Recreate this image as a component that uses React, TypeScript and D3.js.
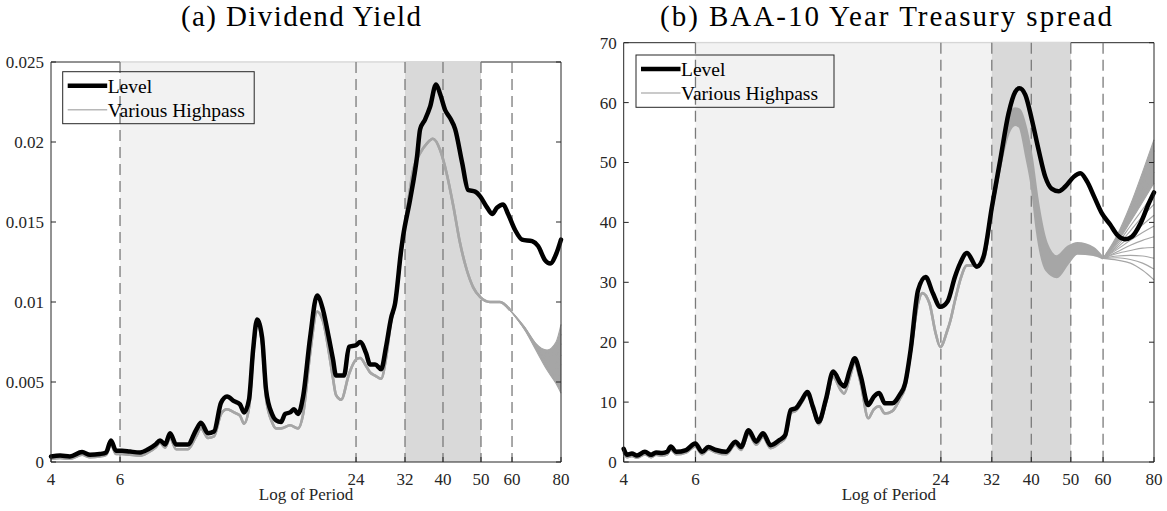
import React from 'react';
import * as d3 from 'd3';

type Pt = number[];

// ---------- shared axis data ----------
const periodTicks = [4, 6, 24, 32, 40, 50, 60, 80];
const periodTickLabels = ['4', '6', '24', '32', '40', '50', '60', '80'];
const markerPeriods = [6, 24, 32, 40, 50, 60];
const lightBand = [6, 32];
const darkBand = [32, 50];
const legendLabels = ['Level', 'Various Highpass'];
const xLabel = 'Log of Period';

// ---------- panel (a) Dividend Yield ----------
const titleA = '(a) Dividend Yield';
const yTicksA = [0, 0.005, 0.01, 0.015, 0.02, 0.025];
const yTickLabelsA = ['0', '0.005', '0.01', '0.015', '0.02', '0.025'];
const levelA: Pt[] = [
  [4.0, 0.00035], [4.22, 0.0004], [4.47, 0.00035], [4.8, 0.00062], [5.03, 0.00045], [5.33, 0.0005],
  [5.53, 0.0006], [5.69, 0.00135], [5.86, 0.0007], [6.07, 0.0007], [6.36, 0.00065], [6.75, 0.0006],
  [7.08, 0.0008], [7.39, 0.0011], [7.59, 0.00135], [7.82, 0.0011], [8.05, 0.0018], [8.34, 0.0011],
  [8.94, 0.0011], [9.38, 0.002], [9.65, 0.00245], [10.06, 0.0018], [10.42, 0.0019], [10.86, 0.0037],
  [11.25, 0.0041], [11.72, 0.0038], [12.14, 0.0036], [12.43, 0.0031], [12.8, 0.0039], [13.11, 0.007],
  [13.42, 0.0089], [13.82, 0.0078], [14.15, 0.0045], [14.65, 0.003], [15.01, 0.0026], [15.45, 0.0025],
  [15.82, 0.003], [16.29, 0.0031], [16.68, 0.0033], [17.07, 0.003], [17.59, 0.0041], [18.33, 0.0078],
  [19.09, 0.0104], [19.77, 0.0095], [20.48, 0.0077], [20.97, 0.0064], [21.33, 0.0054], [22.36, 0.0054],
  [23.03, 0.0072], [24.0, 0.0073], [24.58, 0.0075], [25.46, 0.0068], [26.06, 0.0061], [26.85, 0.0061],
  [27.81, 0.0058], [28.63, 0.0072], [29.49, 0.009], [30.18, 0.0099], [31.27, 0.0132], [31.64, 0.0141],
  [32.97, 0.0164], [34.35, 0.0191], [34.97, 0.0208], [35.99, 0.0214], [37.08, 0.0222], [38.4, 0.0236],
  [39.33, 0.023], [40.5, 0.022], [41.7, 0.0215], [42.96, 0.0208], [44.76, 0.0187], [46.36, 0.017],
  [48.31, 0.0169], [49.76, 0.0166], [51.84, 0.0159], [53.37, 0.0155], [54.95, 0.0159], [56.95, 0.0161],
  [58.63, 0.0155], [61.09, 0.0145], [63.65, 0.0139], [67.52, 0.0138], [69.93, 0.0135], [72.89, 0.0126],
  [75.06, 0.0124], [77.76, 0.013], [80, 0.0139],
];
const highpassA: Pt[] = [
  [4.0, 0.0002], [4.22, 0.00025], [4.47, 0.0002], [4.8, 0.00045], [5.03, 0.0003], [5.33, 0.00035],
  [5.53, 0.00045], [5.69, 0.0011], [5.86, 0.0005], [6.07, 0.0005], [6.36, 0.00045], [6.75, 0.0004],
  [7.08, 0.0006], [7.39, 0.0009], [7.59, 0.0012], [7.82, 0.0009], [8.05, 0.0015], [8.34, 0.0008],
  [8.94, 0.0008], [9.38, 0.0016], [9.65, 0.0021], [10.06, 0.0015], [10.42, 0.0016], [10.86, 0.003],
  [11.25, 0.0033], [11.72, 0.0031], [12.14, 0.0029], [12.43, 0.0024], [12.8, 0.0034], [13.11, 0.0066],
  [13.42, 0.0086], [13.82, 0.0074], [14.15, 0.004], [14.65, 0.0025], [15.01, 0.0021], [15.45, 0.0021],
  [16.29, 0.0023], [17.07, 0.0021], [17.59, 0.003], [18.33, 0.0068], [19.09, 0.0094], [19.77, 0.0088],
  [20.48, 0.0068], [20.97, 0.0052], [21.33, 0.0042], [22.0, 0.0039], [23.03, 0.0055], [24.0, 0.0064],
  [24.58, 0.0065], [25.46, 0.006], [26.06, 0.0056], [26.85, 0.0054], [27.81, 0.0052], [28.63, 0.0065],
  [29.49, 0.0088], [30.18, 0.0098], [31.27, 0.013], [32.3, 0.0155], [33.6, 0.0183], [34.97, 0.0193],
  [36.36, 0.0199], [37.69, 0.0202], [39.33, 0.0195], [40.9, 0.018], [42.5, 0.016], [44.2, 0.0137],
  [46.0, 0.012], [47.8, 0.0109], [49.8, 0.0103], [52.7, 0.01], [55.9, 0.01], [59.3, 0.0095],
];
const fanPeriodsA = [59.3, 64.7, 69.0, 73.7, 77.7, 80];
const fanA: number[][] = [
  [0.0095, 0.0084, 0.0074, 0.007, 0.0075, 0.0086],
  [0.0095, 0.0084, 0.0074, 0.0068, 0.0071, 0.008],
  [0.0095, 0.0084, 0.0073, 0.0066, 0.0067, 0.0074],
  [0.0095, 0.0083, 0.0073, 0.0064, 0.0062, 0.0067],
  [0.0095, 0.0083, 0.0072, 0.0062, 0.0058, 0.0061],
  [0.0095, 0.0083, 0.0072, 0.006, 0.0054, 0.0055],
  [0.0095, 0.00825, 0.0071, 0.0059, 0.0051, 0.0049],
  [0.0095, 0.00825, 0.007, 0.00575, 0.0049, 0.0043],
];

// ---------- panel (b) BAA-10 Year Treasury spread ----------
const titleB = '(b) BAA-10 Year Treasury spread';
const yTicksB = [0, 10, 20, 30, 40, 50, 60, 70];
const yTickLabelsB = ['0', '10', '20', '30', '40', '50', '60', '70'];
const levelB: Pt[] = [
  [4.0, 2.2], [4.08, 1.2], [4.19, 1.4], [4.31, 1.1], [4.51, 1.7], [4.67, 1.2], [4.8, 1.6], [4.97, 1.5],
  [5.11, 1.7], [5.22, 2.6], [5.38, 1.7], [5.69, 2.0], [5.99, 3.1], [6.23, 1.7], [6.45, 2.5], [6.74, 2.0],
  [7.13, 1.7], [7.52, 3.4], [7.76, 2.5], [8.1, 5.3], [8.45, 3.4], [8.79, 4.8], [9.17, 2.8], [9.66, 3.7],
  [9.96, 4.5], [10.28, 8.7], [10.59, 9.0], [10.95, 10.4], [11.29, 11.7], [11.65, 9.2], [12.03, 6.7],
  [12.53, 10.4], [13.06, 15.1], [13.63, 13.1], [13.89, 12.6], [14.36, 15.4], [14.75, 17.3], [15.28, 14.2],
  [15.92, 9.5], [16.43, 10.9], [16.94, 11.5], [17.49, 9.8], [18.24, 9.8], [19.02, 11.2], [19.61, 13.1],
  [20.23, 18.7], [21.1, 28.7], [22.02, 30.9], [22.93, 28.2], [23.92, 25.9], [24.92, 26.8], [25.98, 30.9],
  [26.77, 33.2], [27.8, 34.9], [29.41, 32.6], [30.54, 34.3], [32.02, 42.6], [33.56, 50.4], [35.18, 58.2],
  [36.53, 61.8], [37.42, 62.4], [38.67, 61.3], [40.14, 57.1], [41.69, 52.1], [43.29, 47.6], [44.93, 45.6],
  [46.68, 45.2], [48.48, 46.0], [50.82, 47.6], [52.77, 48.2], [54.85, 46.8], [57.04, 44.3], [59.61, 41.5],
  [62.5, 39.6], [65.0, 37.9], [68.0, 37.2], [70.6, 37.6], [74.1, 39.8], [77.7, 43.2], [80, 45.0],
];
// [period, lower, upper]; upper omitted where the bundle is a single line
const highpassB: Pt[] = [
  [4.0, 1.6], [4.08, 0.8], [4.19, 1.0], [4.31, 0.7], [4.51, 1.3], [4.67, 0.8], [4.8, 1.2], [4.97, 1.1],
  [5.11, 1.3], [5.22, 2.1], [5.38, 1.3], [5.69, 1.6], [5.99, 2.6], [6.23, 1.3], [6.45, 2.1], [6.74, 1.6],
  [7.13, 1.3], [7.52, 2.9], [7.76, 2.0], [8.1, 4.7], [8.45, 2.9], [8.79, 4.2], [9.17, 2.3], [9.66, 3.2],
  [9.96, 4.0], [10.28, 8.2], [10.59, 8.6], [10.95, 10.0], [11.29, 11.4], [11.65, 8.8], [12.03, 6.3],
  [12.53, 9.8], [13.06, 14.2], [13.63, 12.0], [13.89, 11.4], [14.36, 14.2], [14.75, 16.5], [15.28, 13.0],
  [15.92, 7.3], [16.43, 8.8], [16.94, 9.3], [17.49, 8.1], [18.24, 8.5], [19.02, 10.5], [19.61, 12.5],
  [20.23, 18.1], [21.1, 26.5], [21.6, 28.2], [22.5, 26.5], [23.3, 21.5], [23.92, 19.2], [24.9, 22.0],
  [25.3, 23.5], [26.0, 27.0], [26.8, 30.5], [27.8, 32.8], [29.4, 32.8], [30.5, 33.5], [32.0, 42.0],
  [33.56, 49.5], [35.18, 55.0, 57.5], [36.53, 56.3, 59.0], [37.42, 56.0, 58.8], [38.9, 51.0, 55.4],
  [40.14, 46.0, 50.5], [41.3, 38.7, 44.3], [43.6, 32.0, 36.5], [46.2, 30.9, 34.3], [49.2, 33.2, 35.9],
  [51.9, 34.8, 36.5], [56.8, 34.6, 35.7], [60.0, 34.0, 34.0],
];
const fanPeriodsB = [60, 65, 70, 75, 80];
const fanB: number[][] = [
  [34, 37.9, 42.9, 48.4, 53.8],
  [34, 37.6, 42.2, 47.2, 52.0],
  [34, 37.3, 41.5, 45.9, 50.2],
  [34, 37.0, 40.8, 44.6, 48.4],
  [34, 36.7, 40.1, 43.4, 46.6],
  [34, 36.4, 39.4, 42.2, 44.8],
  [34, 36.1, 38.6, 41.0, 43.0],
  [34, 35.8, 37.8, 39.6, 41.2],
  [34, 35.5, 37.0, 38.3, 39.4],
  [34, 35.1, 36.2, 37.0, 37.6],
  [34, 34.8, 35.3, 35.7, 35.8],
  [34, 34.4, 34.5, 34.4, 34.0],
  [34, 34.1, 33.8, 33.2, 32.2],
  [34, 33.7, 33.2, 32.0, 30.4],
];

const FONT = "'Liberation Serif', 'Times New Roman', serif";
const AX = '#262626';
const HP = '#a6a6a6';

type PanelProps = {
  box: { l: number; r: number; t: number; b: number };
  yMax: number;
  yTicks: number[];
  yTickLabels: string[];
  level: Pt[];
  highpass: Pt[];
  fanPeriods: number[];
  fan: number[][];
  fanFillRows: number; // number of upper fan lines drawn as a solid bundle
  title: string;
  titleX: number;
  titleW: number;
  legend: { x: number; y: number; w: number; h: number };
};

function Panel(p: PanelProps) {
  const { box } = p;
  const x = d3.scaleLog().domain([4, 80]).range([box.l, box.r]);
  const y = d3.scaleLinear().domain([0, p.yMax]).range([box.b, box.t]);
  const curve = d3.curveMonotoneX;
  const lineLo = d3.line<Pt>().x(d => x(d[0])).y(d => y(d[1])).curve(curve);
  const lineHi = d3.line<Pt>().x(d => x(d[0])).y(d => y(d[2] ?? d[1])).curve(curve);
  const band = d3.area<Pt>().x(d => x(d[0])).y0(d => y(d[1])).y1(d => y(d[2] ?? d[1])).curve(curve);
  const fanLine = d3.line<number>().x((_, i) => x(p.fanPeriods[i])).y(v => y(v)).curve(curve);
  const lastFill = Math.min(p.fanFillRows, p.fan.length) - 1;
  const fanEnv: Pt[] = p.fanPeriods.map((per, i) => [per, p.fan[lastFill][i], p.fan[0][i]]);
  const lg = p.legend;
  const cx = (box.l + box.r) / 2;
  return (
    <g>
      <text x={p.titleX} y={26} textAnchor="middle" fontFamily={FONT} fontSize={29}
        textLength={p.titleW} lengthAdjust="spacing" fill="#000">{p.title}</text>
      <line x1={box.l} x2={box.r} y1={box.t} y2={box.t} stroke={AX} strokeWidth={1} />
      <rect x={x(lightBand[0])} y={box.t - 1} width={x(lightBand[1]) - x(lightBand[0])}
        height={box.b - box.t + 1} fill="#f2f2f2" />
      <line x1={x(lightBand[0])} x2={x(lightBand[1])} y1={box.t} y2={box.t} stroke="#cfcfcf" strokeWidth={1} />
      <rect x={x(darkBand[0])} y={box.t - 1} width={x(darkBand[1]) - x(darkBand[0])}
        height={box.b - box.t + 1} fill="#d9d9d9" />
      {markerPeriods.map(m => (
        <line key={m} x1={x(m)} x2={x(m)} y1={box.t} y2={box.b} stroke="#7a7a7a"
          strokeWidth={1.3} strokeDasharray="11,6" />
      ))}
      <path d={band(p.highpass) || ''} fill={HP} stroke="none" />
      <path d={lineLo(p.highpass) || ''} fill="none" stroke={HP} strokeWidth={2.6} strokeLinejoin="round" />
      <path d={lineHi(p.highpass) || ''} fill="none" stroke={HP} strokeWidth={2.6} strokeLinejoin="round" />
      {lastFill > 0 && <path d={band(fanEnv) || ''} fill={HP} stroke="none" />}
      {p.fan.map((row, i) => (
        <path key={i} d={fanLine(row) || ''} fill="none" stroke={HP} strokeWidth={1.1} />
      ))}
      <path d={lineLo(p.level) || ''} fill="none" stroke="#000" strokeWidth={4.5}
        strokeLinejoin="round" strokeLinecap="round" />
      <line x1={box.l} x2={box.r} y1={box.b} y2={box.b} stroke={AX} strokeWidth={1} />
      <line x1={box.l} x2={box.l} y1={box.t} y2={box.b} stroke={AX} strokeWidth={1} />
      <line x1={box.r} x2={box.r} y1={box.t} y2={box.b} stroke={AX} strokeWidth={1} />
      {p.yTicks.map((t, i) => (
        <g key={t}>
          <line x1={box.l} x2={box.l + 5} y1={y(t)} y2={y(t)} stroke={AX} />
          <line x1={box.r} x2={box.r - 5} y1={y(t)} y2={y(t)} stroke={AX} />
          <text x={box.l - 7} y={y(t)} dy="0.35em" textAnchor="end" fontFamily={FONT}
            fontSize={17} fill={AX}>{p.yTickLabels[i]}</text>
        </g>
      ))}
      {periodTicks.map((t, i) => (
        <g key={t}>
          <line x1={x(t)} x2={x(t)} y1={box.b} y2={box.b - 5} stroke={AX} />
          <text x={x(t)} y={485} textAnchor="middle" fontFamily={FONT} fontSize={17}
            fill={AX}>{periodTickLabels[i]}</text>
        </g>
      ))}
      <text x={cx} y={500} textAnchor="middle" fontFamily={FONT} fontSize={17} fill={AX}>{xLabel}</text>
      <rect x={lg.x} y={lg.y} width={lg.w} height={lg.h} fill="none" stroke={AX} strokeWidth={1} />
      <line x1={lg.x + 5} x2={lg.x + 44.5} y1={lg.y + 14} y2={lg.y + 14} stroke="#000" strokeWidth={4.5} />
      <line x1={lg.x + 5} x2={lg.x + 44.5} y1={lg.y + 38} y2={lg.y + 38} stroke="#b8b8b8" strokeWidth={1.5} />
      <text x={lg.x + 45} y={lg.y + 14} dy="0.35em" fontFamily={FONT} fontSize={19.5} fill="#000">{legendLabels[0]}</text>
      <text x={lg.x + 45} y={lg.y + 38} dy="0.35em" fontFamily={FONT} fontSize={19.5} fill="#000">{legendLabels[1]}</text>
    </g>
  );
}

export default function App() {
  return (
    <svg width={1167} height={511} style={{ position: 'absolute', left: 0, top: 0, background: '#fff' }}>
      <rect x={0} y={0} width={1167} height={511} fill="#fff" />
      <Panel box={{ l: 51, r: 561, t: 62, b: 462 }} yMax={0.025} yTicks={yTicksA} yTickLabels={yTickLabelsA}
        level={levelA} highpass={highpassA} fanPeriods={fanPeriodsA} fan={fanA} fanFillRows={8}
        title={titleA} titleX={301} titleW={240} legend={{ x: 62.7, y: 71.7, w: 191.5, h: 52 }} />
      <Panel box={{ l: 623.7, r: 1154, t: 42.7, b: 462 }} yMax={70} yTicks={yTicksB} yTickLabels={yTickLabelsB}
        level={levelB} highpass={highpassB} fanPeriods={fanPeriodsB} fan={fanB} fanFillRows={5}
        title={titleB} titleX={886} titleW={452} legend={{ x: 636, y: 55, w: 198, h: 52.3 }} />
    </svg>
  );
}
